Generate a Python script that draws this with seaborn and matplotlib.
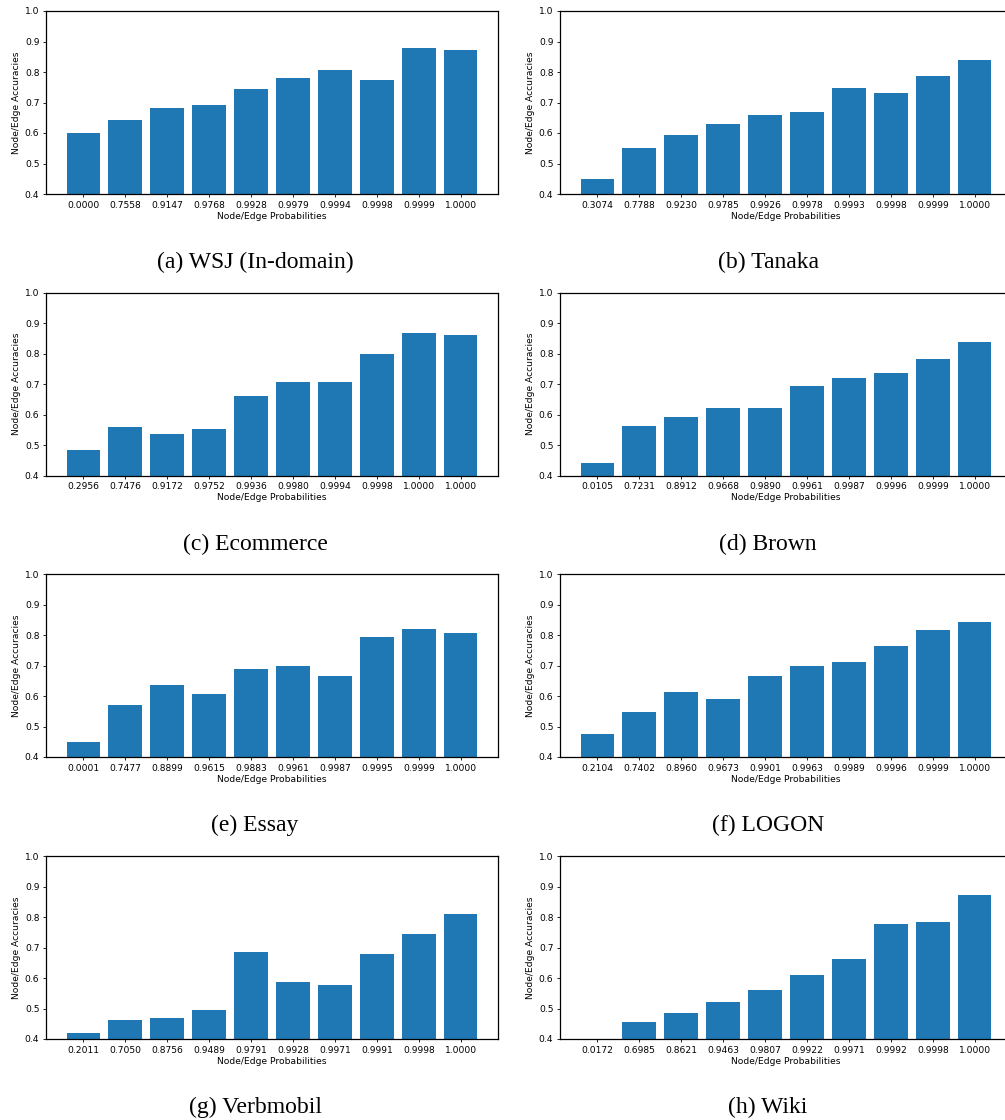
import numpy as np
import pandas as pd
import matplotlib
matplotlib.use("Agg")
import matplotlib.pyplot as plt
import seaborn as sns

# Probability-bin tick labels per corpus
wsj_probs = ["0.0000", "0.7558", "0.9147", "0.9768", "0.9928", "0.9979", "0.9994", "0.9998", "0.9999", "1.0000"]
tanaka_probs = ["0.3074", "0.7788", "0.9230", "0.9785", "0.9926", "0.9978", "0.9993", "0.9998", "0.9999", "1.0000"]
ecommerce_probs = ["0.2956", "0.7476", "0.9172", "0.9752", "0.9936", "0.9980", "0.9994", "0.9998", "1.0000", "1.0000"]
brown_probs = ["0.0105", "0.7231", "0.8912", "0.9668", "0.9890", "0.9961", "0.9987", "0.9996", "0.9999", "1.0000"]
essay_probs = ["0.0001", "0.7477", "0.8899", "0.9615", "0.9883", "0.9961", "0.9987", "0.9995", "0.9999", "1.0000"]
logon_probs = ["0.2104", "0.7402", "0.8960", "0.9673", "0.9901", "0.9963", "0.9989", "0.9996", "0.9999", "1.0000"]
verbmobil_probs = ["0.2011", "0.7050", "0.8756", "0.9489", "0.9791", "0.9928", "0.9971", "0.9991", "0.9998", "1.0000"]
wiki_probs = ["0.0172", "0.6985", "0.8621", "0.9463", "0.9807", "0.9922", "0.9971", "0.9992", "0.9998", "1.0000"]

# Node/edge accuracy in each bin
wsj_acc = [0.601, 0.643, 0.683, 0.692, 0.745, 0.781, 0.807, 0.774, 0.879, 0.872]
tanaka_acc = [0.450, 0.552, 0.594, 0.630, 0.660, 0.669, 0.748, 0.732, 0.787, 0.840]
ecommerce_acc = [0.485, 0.560, 0.537, 0.554, 0.662, 0.708, 0.708, 0.799, 0.868, 0.862]
brown_acc = [0.443, 0.564, 0.591, 0.623, 0.623, 0.695, 0.721, 0.738, 0.784, 0.839]
essay_acc = [0.448, 0.569, 0.635, 0.605, 0.690, 0.700, 0.664, 0.792, 0.821, 0.808]
logon_acc = [0.477, 0.546, 0.612, 0.589, 0.664, 0.700, 0.710, 0.765, 0.818, 0.844]
verbmobil_acc = [0.421, 0.463, 0.470, 0.496, 0.686, 0.588, 0.578, 0.679, 0.745, 0.810]
wiki_acc = [0.390, 0.457, 0.486, 0.522, 0.561, 0.610, 0.663, 0.777, 0.784, 0.872]

captions = ["(a) WSJ (In-domain)", "(b) Tanaka", "(c) Ecommerce", "(d) Brown",
            "(e) Essay", "(f) LOGON", "(g) Verbmobil", "(h) Wiki"]
panels = [(wsj_probs, wsj_acc), (tanaka_probs, tanaka_acc),
          (ecommerce_probs, ecommerce_acc), (brown_probs, brown_acc),
          (essay_probs, essay_acc), (logon_probs, logon_acc),
          (verbmobil_probs, verbmobil_acc), (wiki_probs, wiki_acc)]

W, H = 1005, 1120
fs = 6.6
plt.rcParams.update({
    "font.family": ["DejaVu Sans"],
    "font.size": fs,
    "axes.linewidth": 0.9,
    "xtick.major.size": 2.4,
    "ytick.major.size": 2.4,
    "xtick.major.width": 0.6,
    "ytick.major.width": 0.6,
    "xtick.major.pad": 2.3,
    "ytick.major.pad": 2.3,
})

fig = plt.figure(figsize=(W / 100, H / 100), dpi=100)

col_left = [46, 560]
row_top = [11, 292.7, 574, 856]
ax_w, ax_h = 452, 183
cap_x = [255, 768]
cap_y = [262, 544, 825, 1107]

for i, ((probs, acc), cap) in enumerate(zip(panels, captions)):
    r, c = divmod(i, 2)
    x0 = col_left[c]
    y0 = row_top[r]
    ax = fig.add_axes([x0 / W, 1 - (y0 + ax_h) / H, ax_w / W, ax_h / H])
    df = pd.DataFrame({"pos": np.arange(len(acc)), "acc": acc})
    sns.barplot(data=df, x="pos", y="acc", ax=ax, color="#1f77b4",
                saturation=1, width=0.8, native_scale=True)
    ax.set_xticks(np.arange(len(probs)))
    ax.set_xticklabels(probs)
    ax.set_xlim(-0.89, len(acc) - 1 + 0.89)
    ax.set_ylim(0.4, 1.0)
    ax.set_yticks(np.arange(0.4, 1.01, 0.1))
    ax.set_yticklabels([f"{v:.1f}" for v in np.arange(0.4, 1.01, 0.1)])
    ax.set_xlabel("Node/Edge Probabilities", labelpad=1.5)
    ax.set_ylabel("Node/Edge Accuracies", labelpad=2.5)
    for s in ax.spines.values():
        s.set_color("black")
    fig.text(cap_x[c] / W, 1 - cap_y[r] / H, cap, ha="center", va="center",
             family="Liberation Serif", fontsize=17)

fig.savefig("out.png", dpi=100)
